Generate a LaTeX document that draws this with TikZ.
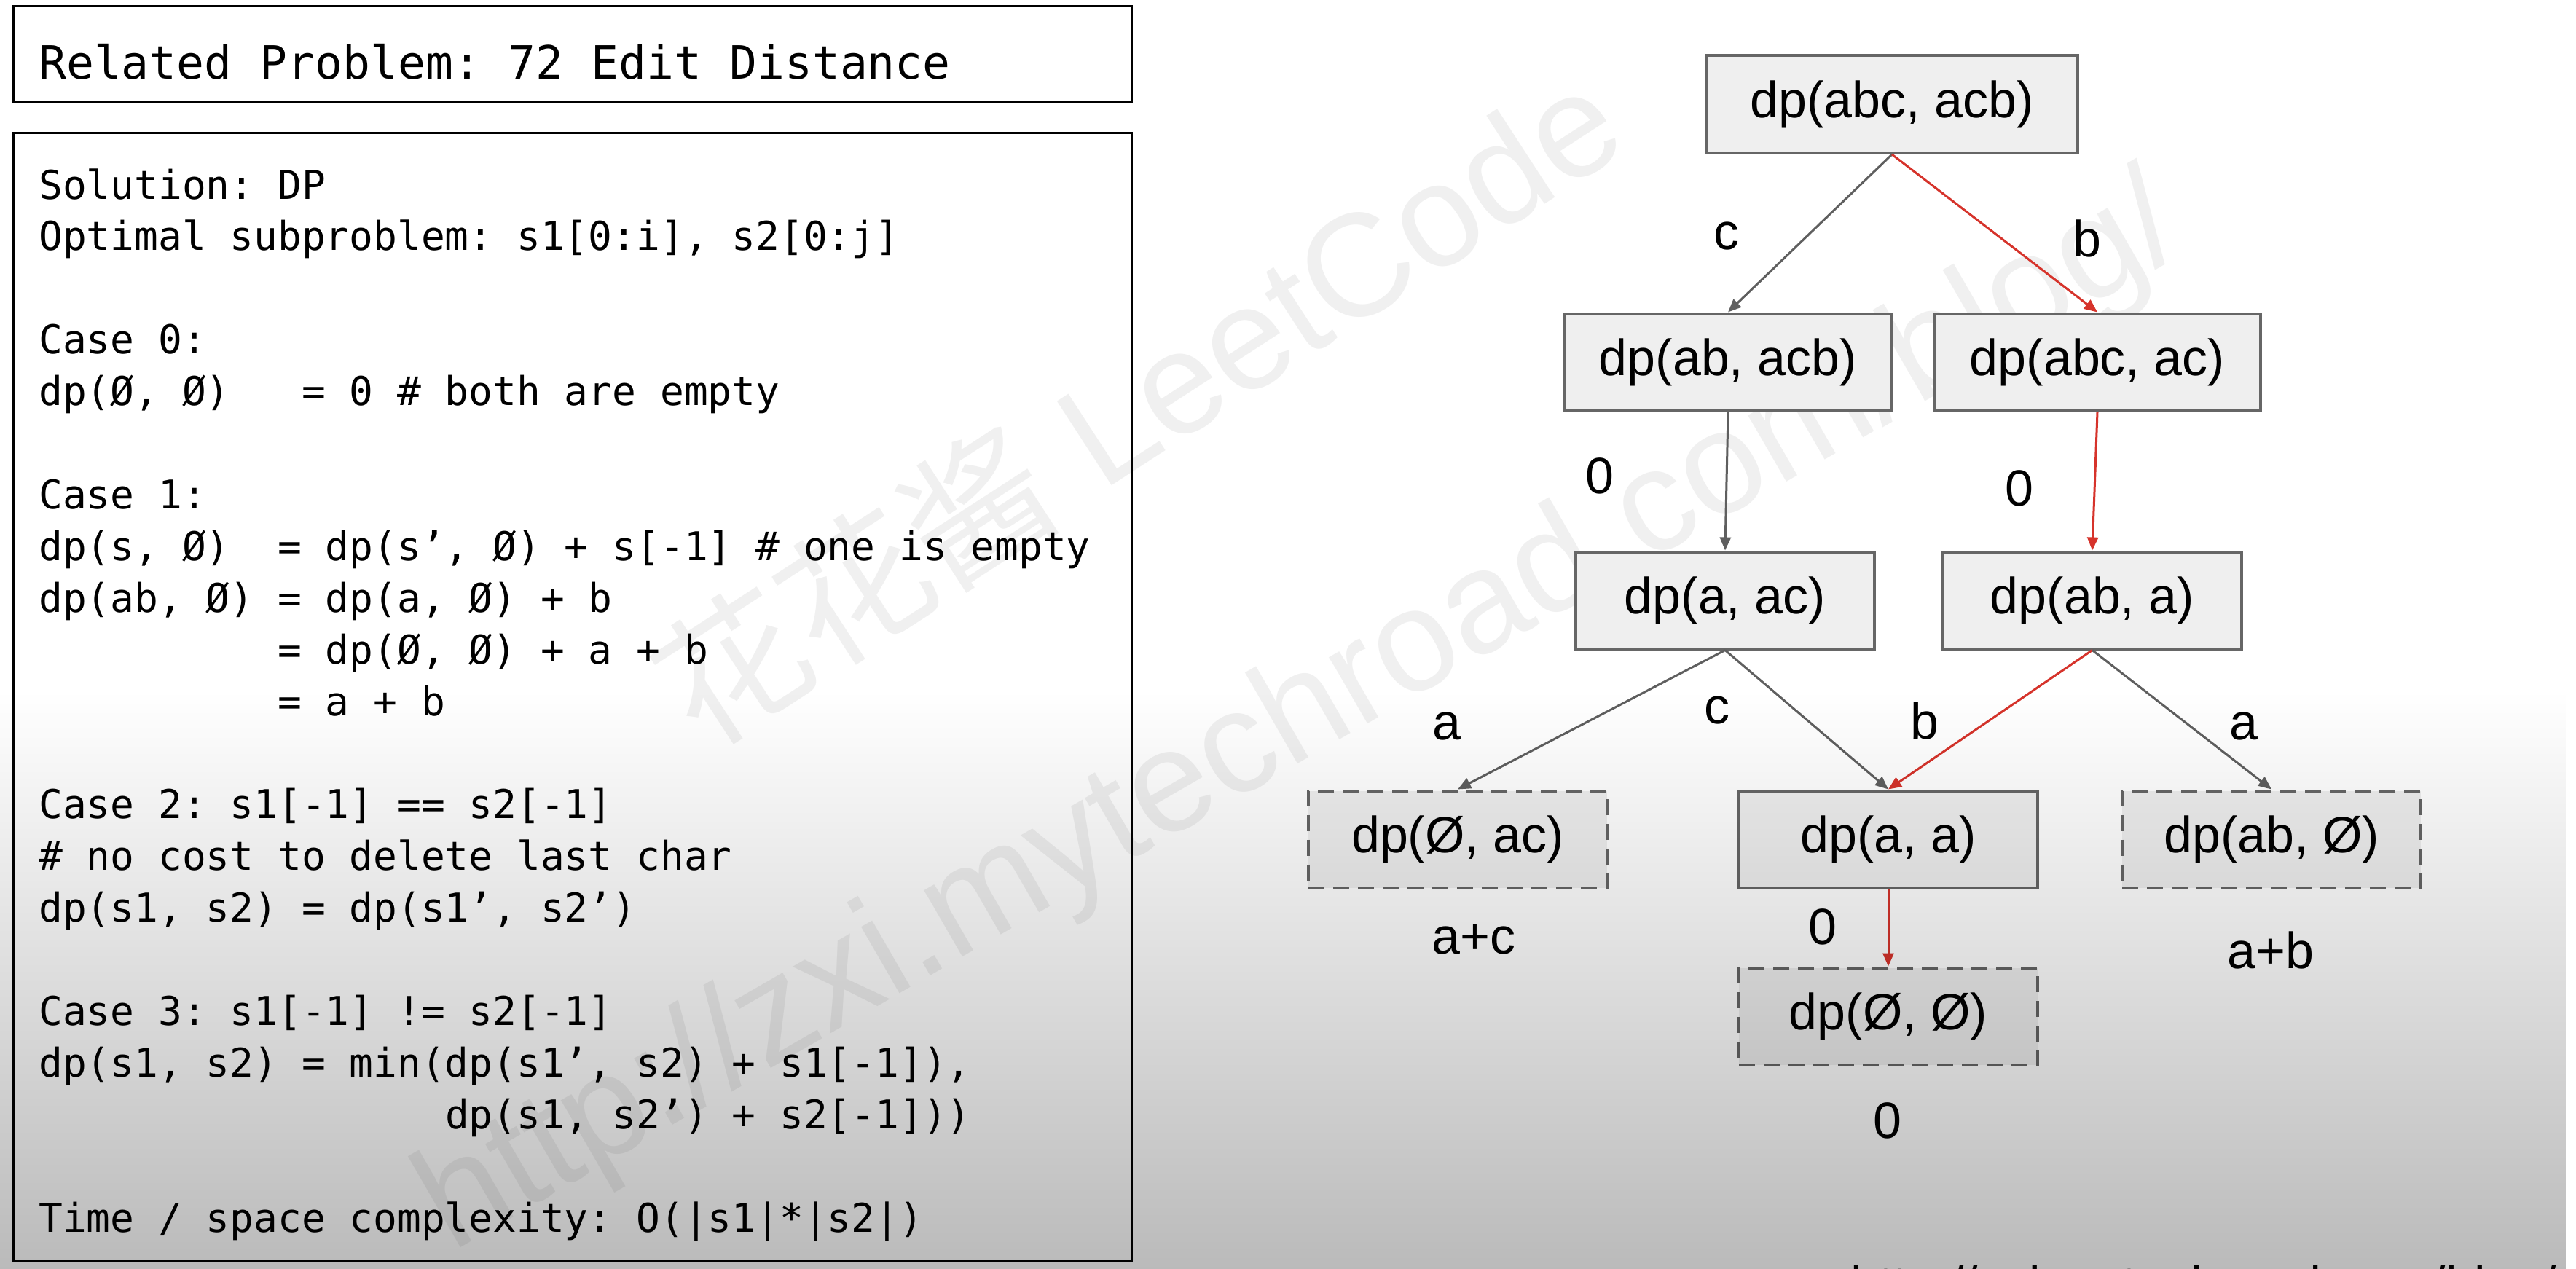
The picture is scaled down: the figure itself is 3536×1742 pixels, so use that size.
\documentclass[tikz,border=0pt]{standalone}
\usepackage{fontspec}
\setmainfont{Liberation Sans}
\newfontfamily\codefont{DejaVu Sans Mono}
\newfontfamily\cjkfont{Noto Sans CJK SC}
\usetikzlibrary{arrows.meta,fadings}
\definecolor{edgegray}{HTML}{5F5F5F}
\definecolor{edgered}{HTML}{D6332B}
\definecolor{nodefill}{HTML}{EFEFEF}
\definecolor{nodeline}{HTML}{666666}
\tikzfading[name=fadedn, top color=transparent!100, bottom color=transparent!0]
\begin{document}
\begin{tikzpicture}[x=1pt,y=-1pt,
  box/.style={draw=nodeline, line width=4pt, fill=nodefill, inner sep=0pt, font=\fontsize{70}{84}\selectfont},
  bigbox/.style={box, minimum width=510pt, minimum height=134pt},
  midbox/.style={box, minimum width=448pt, minimum height=133pt},
  smallbox/.style={box, minimum width=410pt, minimum height=133pt},
  dashbox/.style={smallbox, dash pattern=on 22pt off 12pt},
  graylink/.style={draw=edgegray, line width=3pt, -{Triangle[length=18pt,width=15pt]}},
  redlink/.style={draw=edgered, line width=3pt, -{Triangle[length=18pt,width=15pt]}},
  elabel/.style={inner sep=0pt, font=\fontsize{70}{84}\selectfont},
  codeline/.style={anchor=base west, inner sep=0pt, font=\codefont\fontsize{54.5}{65}\selectfont\frenchspacing},
  panel/.style={draw=black, line width=3pt},
  wmark/.style={text=black!6, inner sep=0pt}
]
\useasboundingbox (0,0) rectangle (3536,1742);
\clip (0,0) rectangle (3536,1742);
\fill[white] (0,0) rectangle (3536,1742);

% watermarks
\node[wmark, rotate=33, anchor=base, font=\fontsize{200}{240}\selectfont] (wm1) at (1601,618) {{\cjkfont 花花酱} LeetCode};
\node[wmark, rotate=30, font=\fontsize{199}{240}\selectfont] (wm2) at (1787,986) {http://zxi.mytechroad.com/blog/};

% left panels
\draw[panel] (18,9) rectangle (1553,140);
\draw[panel] (18,182) rectangle (1553,1731);
\node[anchor=base west, inner sep=0pt, font=\codefont\fontsize{63}{76}\selectfont\frenchspacing] (title) at (53,109) {Related Problem: 72 Edit Distance};

\node[codeline] (l0) at (53,{273+70.9*0}) {Solution: DP};
\node[codeline] (l1) at (53,{273+70.9*1}) {Optimal subproblem: s1[0:i], s2[0:j]};
\node[codeline] (l3) at (53,{273+70.9*3}) {Case 0:};
\node[codeline] (l4) at (53,{273+70.9*4}) {dp(Ø, Ø)~~~= 0 \# both are empty};
\node[codeline] (l6) at (53,{273+70.9*6}) {Case 1:};
\node[codeline] (l7) at (53,{273+70.9*7}) {dp(s, Ø)~~= dp(s’, Ø) + s[-1] \# one is empty};
\node[codeline] (l8) at (53,{273+70.9*8}) {dp(ab, Ø) = dp(a, Ø) + b};
\node[codeline] (l9) at (53,{273+70.9*9}) {~~~~~~~~~~= dp(Ø, Ø) + a + b};
\node[codeline] (l10) at (53,{273+70.9*10}) {~~~~~~~~~~= a + b};
\node[codeline] (l12) at (53,{273+70.9*12}) {Case 2: s1[-1] == s2[-1]};
\node[codeline] (l13) at (53,{273+70.9*13}) {\# no cost to delete last char};
\node[codeline] (l14) at (53,{273+70.9*14}) {dp(s1, s2) = dp(s1’, s2’)};
\node[codeline] (l16) at (53,{273+70.9*16}) {Case 3: s1[-1] != s2[-1]};
\node[codeline] (l17) at (53,{273+70.9*17}) {dp(s1, s2) = min(dp(s1’, s2) + s1[-1]),};
\node[codeline] (l18) at (53,{273+70.9*18}) {~~~~~~~~~~~~~~~~~dp(s1, s2’) + s2[-1]))};
\node[codeline] (l20) at (53,{273+70.9*20}) {Time / space complexity: O(|s1|*|s2|)};

% tree nodes
\node[bigbox] (n1) at (2597,143) {dp(abc, acb)};
\node[midbox] (n2) at (2372,497) {dp(ab, acb)};
\node[midbox] (n3) at (2879,497) {dp(abc, ac)};
\node[smallbox] (n4) at (2368,824) {dp(a, ac)};
\node[smallbox] (n5) at (2872,824) {dp(ab, a)};
\node[dashbox] (n6) at (2001,1152) {dp(Ø, ac)};
\node[smallbox] (n7) at (2592,1152) {dp(a, a)};
\node[dashbox] (n8) at (3118,1152) {dp(ab, Ø)};
\node[dashbox] (n9) at (2592,1395) {dp(Ø, Ø)};

% edges
\draw[graylink] (n1.south) -- (n2.north);
\draw[redlink] (n1.south) -- (n3.north);
\draw[graylink] (n2.south) -- (n4.north);
\draw[redlink] (n3.south) -- (n5.north);
\draw[graylink] (n4.south) -- (n6.north);
\draw[graylink] (n4.south) -- (n7.north);
\draw[redlink] (n5.south) -- (n7.north);
\draw[graylink] (n5.south) -- (n8.north);
\draw[redlink] (n7.south) -- (n9.north);

% edge labels
\node[elabel] (e1) at (2370,324) {c};
\node[elabel] (e2) at (2865,327) {b};
\node[elabel] (e3) at (2196,653) {0};
\node[elabel] (e4) at (2772,670) {0};
\node[elabel] (e5) at (1986,997) {a};
\node[elabel] (e6) at (2357,975) {c};
\node[elabel] (e7) at (2642,989) {b};
\node[elabel] (e8) at (3080,997) {a};
\node[elabel] (v1) at (2023,1290) {a+c};
\node[elabel] (e9) at (2502,1272) {0};
\node[elabel] (v2) at (3117,1304) {a+b};
\node[elabel] (v3) at (2591,1538) {0};

% cut-off footer url
\node[anchor=base west, inner sep=0pt, font=\fontsize{70}{84}\selectfont] (footurl) at (2540,1787) {http://zxi.mytechroad.com/blog/};

% bottom darkening
\fill[black, fill opacity=0.27, path fading=fadedn] (0,950) rectangle (3536,1742);
\end{tikzpicture}
\end{document}
